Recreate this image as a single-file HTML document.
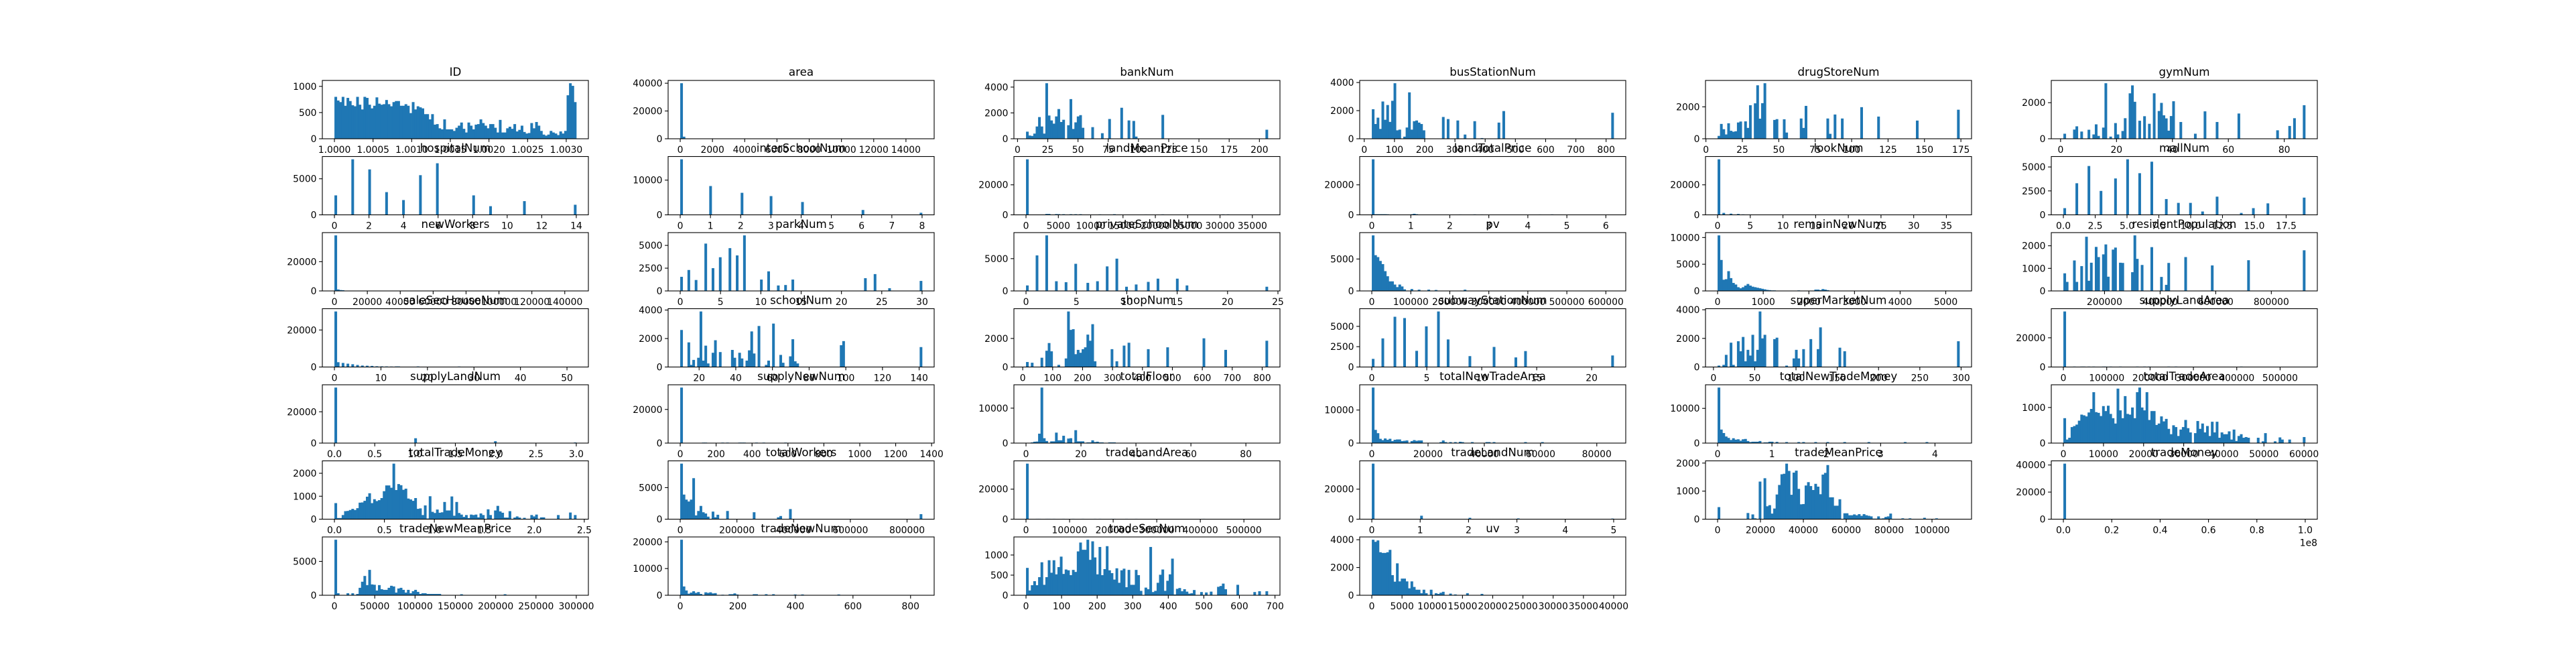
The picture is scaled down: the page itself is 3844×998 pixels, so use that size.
<!DOCTYPE html>
<html><head><meta charset="utf-8"><style>
html,body{margin:0;padding:0;background:#fff;}
svg{display:block;font-family:"DejaVu Sans","Liberation Sans",sans-serif;}
</style></head><body>
<svg id="fig" width="3844" height="998" viewBox="0 0 3844 998" xmlns="http://www.w3.org/2000/svg">
<rect x="0" y="0" width="3844" height="998" fill="#fff"/>
</svg>
<script>
const titles=["ID","area","bankNum","busStationNum","drugStoreNum","gymNum",
"hospitalNum","interSchoolNum","landMeanPrice","landTotalPrice","lookNum","mallNum",
"newWorkers","parkNum","privateSchoolNum","pv","remainNewNum","residentPopulation",
"saleSecHouseNum","schoolNum","shopNum","subwayStationNum","superMarketNum","supplyLandArea",
"supplyLandNum","supplyNewNum","totalFloor","totalNewTradeArea","totalNewTradeMoney","totalTradeArea",
"totalTradeMoney","totalWorkers","tradeLandArea","tradeLandNum","tradeMeanPrice","tradeMoney",
"tradeNewMeanPrice","tradeNewNum","tradeSecNum","uv"];
const binLo=[1.0,0,7,25,8,1, 0,0,0,0,0,0, 0,0,0,0,0,52000, 0,9.7,11,0,5,0, 0,0,0,0,0,0, 0,0,0,0,0,0, 0,0,0,0];
const binHi=[1.00313,15000,207,825,174,87.5, 14,8,37400,6.2,37,19, 147000,30,24,620000,5300,922000, 52,141.6,819,22,298,558000, 3,1347,88,86000,4.45,60300, 2.42,853000,555000,5,112800,1.0e8, 300000,840,680,40000];
const xScale=[1,1,1,1,1,1, 1,1,1,1,1,1, 1,1,1,1,1,1, 1,1,1,1,1,1, 1,1,1,1,1,1, 1,1,1,1,1,1e8, 1,1,1,1];
const xTicks=[
["1.0000","1.0005","1.0010","1.0015","1.0020","1.0025","1.0030"],
["0","2000","4000","6000","8000","10000","12000","14000"],
["0","25","50","75","100","125","150","175","200"],
["0","100","200","300","400","500","600","700","800"],
["0","25","50","75","100","125","150","175"],
["0","20","40","60","80"],
["0","2","4","6","8","10","12","14"],
["0","1","2","3","4","5","6","7","8"],
["0","5000","10000","15000","20000","25000","30000","35000"],
["0","1","2","3","4","5","6"],
["0","5","10","15","20","25","30","35"],
["0.0","2.5","5.0","7.5","10.0","12.5","15.0","17.5"],
["0","20000","40000","60000","80000","100000","120000","140000"],
["0","5","10","15","20","25","30"],
["0","5","10","15","20","25"],
["0","100000","200000","300000","400000","500000","600000"],
["0","1000","2000","3000","4000","5000"],
["200000","400000","600000","800000"],
["0","10","20","30","40","50"],
["20","40","60","80","100","120","140"],
["0","100","200","300","400","500","600","700","800"],
["0","5","10","15","20"],
["0","50","100","150","200","250","300"],
["0","100000","200000","300000","400000","500000"],
["0.0","0.5","1.0","1.5","2.0","2.5","3.0"],
["0","200","400","600","800","1000","1200","1400"],
["0","20","40","60","80"],
["0","20000","40000","60000","80000"],
["0","1","2","3","4"],
["0","10000","20000","30000","40000","50000","60000"],
["0.0","0.5","1.0","1.5","2.0","2.5"],
["0","200000","400000","600000","800000"],
["0","100000","200000","300000","400000","500000"],
["0","1","2","3","4","5"],
["0","20000","40000","60000","80000","100000"],
["0.0","0.2","0.4","0.6","0.8","1.0"],
["0","50000","100000","150000","200000","250000","300000"],
["0","200","400","600","800"],
["0","100","200","300","400","500","600","700"],
["0","5000","10000","15000","20000","25000","30000","35000","40000"]];
const yTicks=[
[0,500,1000],[0,20000,40000],[0,2000,4000],[0,2000,4000],[0,2000],[0,2000],
[0,5000],[0,10000],[0,20000],[0,20000],[0,20000],[0,2500,5000],
[0,20000,40000],[0,2500,5000],[0,5000],[0,5000],[0,5000,10000],[0,1000,2000],
[0,20000],[0,2000,4000],[0,2000],[0,2500,5000],[0,2000,4000],[0,20000],
[0,20000],[0,20000],[0,10000],[0,10000],[0,10000],[0,1000],
[0,1000,2000],[0,5000],[0,20000],[0,20000],[0,1000,2000],[0,20000,40000],
[0,5000],[0,10000,20000],[0,500,1000],[0,2000,4000]];
const counts=[
[800,730,700,800,630,780,720,640,620,800,650,560,800,780,650,580,630,790,670,650,660,740,660,620,700,720,720,630,630,660,630,490,700,560,620,600,580,470,470,370,470,270,280,200,180,370,180,180,180,150,210,250,310,190,120,310,250,180,270,280,370,300,250,200,280,280,210,120,360,120,120,200,230,190,280,140,170,250,130,100,110,300,200,320,250,150,80,60,80,150,120,100,70,140,100,150,830,1060,1010,700],
[[0,40000],[160,1500]],
[[7,550],[9,250],[11,220],[13,400],[15,950],[17,1680],[19,950],[21,400],[23,4300],[25,1800],[27,1420],[29,1170],[31,1730],[33,2300],[35,1300],[37,1470],[41,1050],[43,3070],[45,760],[47,1270],[49,1730],[51,1830],[53,850],[61,900],[69,430],[75,1530],[85,2400],[91,1420],[95,1380],[97,170],[119,1850],[205,700]],
[[26,2100],[34,1050],[44,1500],[51,700],[59,2650],[67,1350],[75,2400],[82,1200],[90,2700],[98,3950],[106,600],[115,650],[131,150],[139,800],[146,3300],[154,650],[163,1250],[171,1300],[179,1150],[187,1050],[195,600],[260,1550],[275,1400],[307,1300],[333,300],[363,1250],[388,50],[444,1150],[459,1970],[820,1850]],
[[8.4,180],[10.3,930],[12.1,600],[14,270],[15.5,970],[17.1,500],[18.6,440],[20.2,470],[22.1,1020],[23.9,1080],[25.5,50],[27,1090],[28.6,680],[30.5,2100],[33.5,2220],[35.1,3350],[36.6,1260],[38.5,2230],[40.1,3480],[46.6,1180],[48.5,1230],[53.4,1220],[55.3,390],[64.9,1270],[66.8,680],[68.6,2060],[83.5,1270],[85.1,310],[88.2,1520],[93.2,1270],[106.5,1980],[118,1390],[144.7,1140],[173.3,1820]],
[[1,280],[4.6,510],[5.4,690],[7.9,400],[9.8,500],[11.8,240],[12.4,800],[13.4,160],[15,620],[15.8,3080],[17.8,120],[19.4,870],[20.2,240],[22,430],[22.9,1140],[24.6,2520],[25.5,2960],[26.4,2050],[28,1000],[29.9,1250],[31.5,830],[33.3,2520],[34.9,1540],[35.8,1990],[36.7,1300],[37.5,1130],[38.3,450],[39.2,1260],[40.5,2080],[42.8,930],[48.2,280],[51.6,1520],[56.2,930],[63.7,1400],[77.7,470],[82.1,710],[83.9,1140],[87.3,1860]],
[[0,2700],[1,7700],[2,6300],[3,3150],[4,2050],[5,5500],[6,7150],[8,2700],[9,1200],[11,1900],[14,1400]],
[[0,16000],[1,8300],[2,6350],[3,5400],[4,3700],[6,1400],[8,600]],
[[0,37000],[3300,600],[3700,600],[4500,500],[5200,450],[5800,400],[7100,400],[7700,400],[8300,400],[11500,300],[13800,400],[18500,250],[21000,300],[30500,300],[31200,300]],
[[0,37000],[0.07,400],[0.14,400],[0.2,400],[0.27,400],[0.33,400],[0.4,350],[1.0,400],[1.07,700],[1.13,400],[2.25,250],[2.62,300],[2.8,250],[4.3,250],[4.6,300]],
[[0,37000],[1,1300],[2,800],[3,600],[4,300],[5,250],[6,200],[7,200],[8,150],[9,150],[10,100],[11,100]],
[[0,700],[1,3300],[2,5100],[3,2500],[4,3800],[5,5800],[6,4350],[7,5550],[8,1650],[9,1250],[10,1250],[11,350],[12,1900],[14,200],[15,700],[16,1200],[19,1800]],
[[0,38000],[1500,1000],[3000,600],[4500,500]],
[[0,1550],[1,2300],[2,1200],[3,5200],[4,2500],[5,3700],[6,4700],[7,3900],[8,6100],[10,1250],[11,2150],[12,600],[13,650],[14,1250],[23,1400],[24,1850],[26,300],[30,1100]],
[[0,850],[1,5500],[2,8600],[3,1500],[4,1350],[5,4200],[6,1250],[7,1500],[8,3800],[9,5000],[10,650],[11,1000],[12,1400],[13,1900],[15,1900],[16,850],[24,650]],
[8700,5600,5300,4700,4200,3100,2300,1500,1500,1000,600,1000,700,250,0,0,300,0,0,200,0,0,0,200,0,0,150,0,0,0,0,0,0,0,0,0,0,0,200],
[10400,5800,2100,2200,3700,2400,1500,1200,700,500,700,1000,1300,1000,800,700,600,500,400,300,200,150,100,100,0,0,0,0,0,0,0,0,0,100,0,0,0,0,0,0,250,250,150,350,250,150],
[[52459,780],[60656,250],[68852,400],[86885,380],[95082,1350],[103279,400],[113115,600],[121311,1100],[131148,2400],[147541,450],[155738,1250],[165574,1950],[173770,1150],[181967,1500],[191803,1620],[200000,2060],[208197,1330],[216393,630],[227869,1830],[242623,1920],[252459,1250],[260656,960],[268852,1240],[298361,830],[308197,2460],[316393,1420],[332787,1150],[367213,1940],[401639,620],[418033,270],[426230,1240],[490164,1500],[586885,1130],[718033,1360],[919672,1800]],
[[0,30000],[1,2600],[2,2200],[3,1800],[4,1500],[5,1100],[6,800],[7,700],[8,600],[9,400],[10,350],[11,300],[12,250],[13,300],[14,300],[18,300],[27,250]],
[[9.7,2600],[10.8,200],[13.7,1730],[14.8,100],[16,150],[17.4,500],[20.2,650],[21.4,3900],[22.8,450],[24.2,1500],[25.4,250],[28,1000],[29.4,1880],[32,1050],[37.4,1200],[38.8,650],[41.4,700],[42.5,1000],[43.9,600],[45.4,450],[46.8,1170],[48.2,2500],[49.3,950],[53.1,2880],[57.1,150],[58.5,450],[59.9,1250],[61.1,3050],[63.9,850],[65.1,300],[69.3,750],[70.7,1950],[71.9,400],[73.3,250],[97.2,1530],[98.6,1820],[141.6,1400]],
[[11,350],[33,300],[62,650],[78,1140],[86,1680],[94,1100],[117,150],[141,600],[151,3890],[158,2600],[168,2650],[176,900],[184,1200],[192,1000],[200,1250],[209,1380],[217,2270],[225,1840],[233,3000],[241,400],[300,1250],[315,400],[341,1500],[355,1700],[422,1250],[485,1380],[601,2010],[674,1200],[819,1840]],
[[0,1000],[1,3520],[2,6180],[3,6020],[4,1990],[5,5000],[6,6830],[7,3390],[9,1340],[11,2470],[13,1180],[14,1960],[22,1420]],
[[5,100],[11.6,150],[14.9,850],[20.4,1700],[23.2,150],[29.2,1800],[32.5,1100],[35.3,2100],[38.1,400],[40.8,1200],[44.1,800],[46.9,2250],[49.6,400],[52.4,1200],[55.2,3880],[58.5,2000],[61.2,2250],[72.8,1950],[76.1,2050],[88.3,100],[96.5,600],[99.8,1200],[102.6,600],[108.7,1250],[117.5,1950],[126.3,1250],[129.1,2770],[152.8,1350],[158.9,1100],[297.8,1800]],
[[0,38000],[25000,300],[40000,300],[50000,300],[60000,300],[70000,300],[90000,300],[95000,300],[100000,300],[110000,300],[130000,300],[170000,300],[185000,300],[200000,300],[245000,300],[260000,300],[410000,300]],
[[0,35500],[1,3100],[2,1200],[2.98,400]],
[[0,33000],[130,300],[140,300],[230,300],[260,300],[330,300],[345,300],[360,300],[420,300],[470,300],[580,300]],
[[2.0,200],[2.9,400],[3.8,450],[4.6,2700],[5.5,15900],[6.4,1400],[7.9,600],[8.8,500],[9.7,500],[10.8,3000],[11.6,800],[12.5,800],[13.4,2100],[15.0,1000],[15.8,1300],[16.7,1400],[17.6,3700],[18.5,500],[19.4,500],[20.3,500],[22,200],[23,200],[24,800],[25,300],[26,400],[27,200],[28,200],[30,200],[31,200],[32,200]],
[16800,4000,3000,1300,900,1400,1000,1300,600,1000,1100,1100,600,700,800,0,600,900,700,800,800,0,0,0,0,0,0,0,300,800,300,0,300,0,300,0,400,300,0,0,0,300,0,0,0,0,0,300,300,0,300,0,0,0,0,0,0,0,0,0,0,0,0,300,0,0,0,0,0,0,300],
[16000,3900,2900,1900,1500,900,1400,1000,1100,700,1100,1200,600,300,400,400,400,600,0,200,200,400,400,0,350,0,0,0,300,0,0,0,0,300,0,300,0,0,0,0,300,0,0,0,0,300,0,0,0,0,0,0,300,0,0,0,0,0,0,0,0,0,300,0,0,0,0,0,0,0,0,0,0,0,0,0,0,300,0,0,0,0,0,0,0,0,300],
[700,100,150,450,480,520,630,800,780,750,860,960,1430,870,850,760,1040,900,1050,820,700,550,1530,920,700,1320,820,800,1000,700,1430,1560,1000,920,1430,650,900,900,510,550,750,610,680,400,250,500,450,200,380,450,650,420,300,0,280,620,400,550,300,480,200,600,300,600,150,300,250,250,330,100,380,60,200,250,150,170,150,0,0,0,150,0,50,280,0,0,0,50,0,160,100,0,0,100,0,0,0,0,0,170],
[700,50,50,180,350,360,400,450,400,480,720,730,800,980,1130,700,870,790,830,920,1220,1470,1470,1370,2420,1270,1530,1480,1280,1330,900,860,800,920,450,470,180,600,30,1000,320,270,420,280,300,750,380,380,990,150,750,270,200,100,180,50,200,180,200,80,250,180,0,430,180,0,380,580,340,280,70,70,350,0,70,120,70,0,60,0,0,180,120,200,0,80,80,0,0,0,0,0,180,0,0,0,0,290,0,180],
[8800,3900,3100,2800,3100,6500,600,1300,2100,1100,900,400,0,1200,300,700,0,0,0,1300,0,0,0,0,0,0,0,0,0,0,1100,0,0,0,0,0,0,0,0,0,300,500,0,0,0,1600,0,0,0,0,0,0,0,0,0,0,0,0,0,0,0,0,0,0,0,0,0,0,0,0,0,0,0,0,0,0,0,0,0,0,0,0,0,0,0,0,0,0,0,0,0,0,0,0,0,0,0,0,0,800],
[[0,37000],[25000,250],[30000,250],[45000,250],[55000,250],[65000,250],[85000,250],[110000,250],[130000,250],[160000,250],[170000,250],[195000,250],[200000,250],[230000,250],[250000,250],[410000,250]],
[[0,37000],[1,2300],[2,900],[3,500],[4.98,400]],
[[0,430],[13700,220],[16100,170],[17100,30],[19200,580],[20300,1340],[21600,1460],[22600,460],[23900,500],[24900,200],[26000,380],[27300,880],[28300,1220],[29400,1600],[30700,1620],[31900,1980],[33000,1720],[34200,870],[35300,1660],[36400,1730],[37600,1080],[38700,530],[39700,540],[40800,1200],[41900,1320],[42900,1180],[44000,1040],[45200,1260],[46300,1160],[47600,890],[48600,1590],[49900,1650],[50900,1930],[52000,780],[53300,780],[54300,480],[55400,480],[56700,710],[57500,480],[58800,210],[59800,210],[60900,50],[61900,140],[63000,140],[64100,170],[65100,140],[66200,180],[67200,120],[68300,180],[69300,140],[70400,120],[71500,100],[72500,20],[73600,20],[74600,100],[75900,20],[77000,30],[78000,80],[79100,100],[80300,200],[86000,30],[89600,30],[96100,50],[102000,30]],
[[0,41000]],
[[0,8200],[3000,300],[16000,300],[23000,300],[27000,200],[30000,1100],[33000,2000],[36000,2850],[39000,1500],[42000,3750],[45000,1600],[48000,1550],[51000,700],[54000,1500],[57000,900],[60000,800],[63000,800],[66000,1100],[69000,1400],[72000,1300],[75000,400],[78000,1000],[81000,1100],[84000,800],[87000,400],[90000,800],[93000,300],[96000,600],[99000,800],[102000,500],[105000,200],[108000,300],[111000,300],[114000,200],[117000,200],[120000,200],[123000,200],[126000,200],[129000,200],[156000,150],[210000,150]],
[[0,20800],[8.5,3300],[17,1800],[25.5,600],[34,1000],[42.5,1500],[51,900],[59.5,1200],[68,500],[84.5,1100],[93,900],[101.5,1100],[110,700],[118.5,800],[143,200],[168.5,400],[177,400],[185.5,700],[194,300],[252.5,400],[261,400],[294.5,400],[320,400],[395,300],[420,300],[546,300]],
[680,120,250,350,250,450,820,260,450,870,560,870,520,700,960,530,640,620,500,630,580,1090,1310,1130,1130,1380,880,1340,940,520,1200,500,650,1220,620,550,390,670,310,620,660,200,630,260,260,630,500,110,0,190,150,1200,80,110,310,510,640,110,360,520,910,20,160,180,100,150,90,40,50,130,0,0,80,0,70,0,90,0,0,210,230,290,150,0,0,0,0,260,0,0,0,0,0,0,80,0,100,0,0,100],
[4000,3850,3950,3100,3050,3050,3100,3270,1450,980,2300,1000,1200,1200,1000,500,1000,600,400,400,150,400,150,0,400,0,150,100,180,250,0,0,120,0,60,0,0,0,0,150,0,0,0,0,0,100]
];

const NS="http://www.w3.org/2000/svg";
const svg=document.getElementById('fig');
function mk(tag,attrs,parent){const e=document.createElementNS(NS,tag);for(const k in attrs)e.setAttribute(k,attrs[k]);(parent||svg).appendChild(e);return e;}
const AX_L=481,AX_T=120,COLP=516,ROWP=113.5,AW=397,AH=87,NB=100;
titles.forEach((title,k)=>{
  const col=k%6,row=Math.floor(k/6);
  const L=AX_L+COLP*col,T=AX_T+ROWP*row;
  const lo=binLo[k],hi=binHi[k],r=hi-lo,w=r/NB;
  const x0=lo-0.05*r,x1=hi+0.05*r;
  const bins=new Array(NB).fill(0);
  const c=counts[k];
  if(typeof c[0]==='number'){for(let i=0;i<Math.min(NB,c.length);i++)bins[i]=c[i];}
  else{c.forEach(p=>{let i=Math.floor((p[0]-lo)/w+1e-9);i=Math.max(0,Math.min(NB-1,i));bins[i]=Math.max(bins[i],p[1]);});}
  const ymax=Math.max(...bins)*1.05;
  const xs=v=>L+(v-x0)/(x1-x0)*AW;
  const ys=v=>T+AH-v/ymax*AH;
  const g=mk('g',{});
  
  
  const bg=mk('g',{fill:'#1f77b4'},g);
  
  
  bins.forEach((cnt,i)=>{
    if(cnt<=0)return;
    const bx=xs(lo+i*w),bx2=xs(lo+(i+1)*w);
    const b=mk('rect',{x:bx.toFixed(2),y:ys(cnt).toFixed(2),width:Math.max(1,bx2-bx+0.4).toFixed(2),height:(T+AH-ys(cnt)).toFixed(2)},bg);
    
    
  });
  const fr=mk('rect',{x:L,y:T,width:AW,height:AH,fill:'none',stroke:'#000','stroke-width':1.1},g);
  
  
  const tt=mk('text',{x:L+AW/2,y:T-7,'text-anchor':'middle','font-size':16.7,fill:'#000'},g);
  tt.textContent=title;
  
  
  xTicks[k].forEach(lbl=>{
    const v=parseFloat(lbl)*xScale[k];
    if(v<x0||v>x1)return;
    const px=xs(v);
    mk('line',{x1:px,y1:T+AH,x2:px,y2:T+AH+4.9,stroke:'#000','stroke-width':1.1},g);
    const t=mk('text',{x:px,y:T+AH+21,'text-anchor':'middle','font-size':13.9,fill:'#000'},g);
    t.textContent=lbl;
    
    
  });
  yTicks[k].forEach(v=>{
    if(v>ymax)return;
    const py=ys(v);
    mk('line',{x1:L-4.9,y1:py,x2:L,y2:py,stroke:'#000','stroke-width':1.1},g);
    const t=mk('text',{x:L-8.5,y:py+5,'text-anchor':'end','font-size':13.9,fill:'#000'},g);
    t.textContent=String(v);
    
    
  });
  if(xScale[k]!==1){
    const t=mk('text',{x:L+AW,y:T+AH+40,'text-anchor':'end','font-size':13.9,fill:'#000'},g);
    t.textContent='1e8';
    
    
  }
});
</script>
</body></html>
